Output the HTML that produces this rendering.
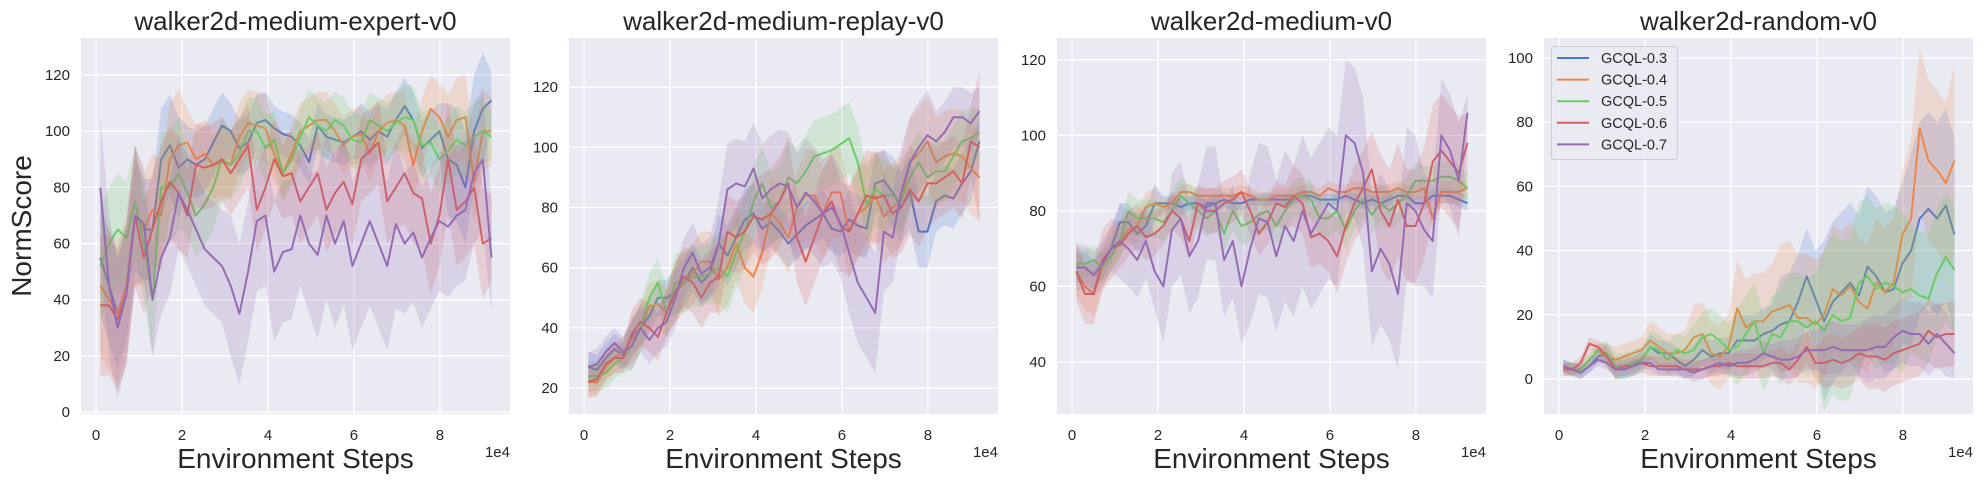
<!DOCTYPE html>
<html><head><meta charset="utf-8">
<style>
html,body{margin:0;padding:0;background:#fff;}
svg{display:block;font-family:"Liberation Sans",Arial,sans-serif;}
</style></head>
<body>
<svg id="fig" width="1984" height="484" viewBox="0 0 1984 484" xmlns="http://www.w3.org/2000/svg"></svg>
<script>
const seriesNames = ["GCQL-0.3","GCQL-0.4","GCQL-0.5","GCQL-0.6","GCQL-0.7"];
const xTicks = [0,2,4,6,8];
const titles = ["walker2d-medium-expert-v0","walker2d-medium-replay-v0","walker2d-medium-v0","walker2d-random-v0"];
const yTicks1 = [0,20,40,60,80,100,120];
const yTicks2 = [20,40,60,80,100,120];
const yTicks3 = [40,60,80,100,120];
const yTicks4 = [0,20,40,60,80,100];

// panel 1: medium-expert
const p1Blue=[55,45,35,45,70,65,65,90,95,87,90,88,90,96,102,100,94,96,103,104,101,99,98,95,89,102,98,97,96,98,100,97,100,98,104,109,104,94,97,100,90,88,80,100,108,111];
const p1Orange=[45,40,35,45,70,65,72,70,90,95,96,90,92,88,89,88,98,103,102,101,92,85,92,100,102,104,104,100,95,98,99,92,100,103,104,102,88,100,108,105,98,104,105,82,100,100];
const p1Green=[52,60,65,62,75,60,40,80,80,85,78,70,74,80,90,88,92,100,100,94,97,85,90,98,105,102,100,104,102,97,96,104,102,100,103,105,104,95,96,90,93,97,95,98,100,98];
const p1Red=[38,38,33,42,70,55,65,75,82,78,70,88,87,88,90,85,90,95,72,80,90,84,85,75,80,85,72,78,82,74,90,93,96,75,80,85,78,76,60,70,90,72,75,80,60,62];
const p1Purple=[80,45,30,42,70,67,40,55,62,78,72,65,58,55,52,45,35,50,68,70,50,57,58,70,60,56,70,60,68,52,60,68,60,52,67,60,64,55,62,68,66,70,72,85,90,55];
const p1Spread=[[20,18,12,10,8,8,10,10,20,10],[25,20,12,12,10,10,10,12,15,12],[20,20,15,12,10,10,10,12,12,8],[25,20,15,15,15,15,15,18,20,15],[25,20,20,25,25,30,30,25,25,20]];

// panel 2: medium-replay
const p2Blue=[27,26,30,33,31,37,40,44,50,50,52,55,60,55,58,68,64,70,76,78,73,75,72,68,71,74,76,78,73,72,76,74,73,88,89,85,80,85,72,72,82,84,83,88,92,102];
const p2Orange=[22,22,27,30,32,36,40,47,48,45,52,55,58,62,62,56,60,68,60,57,65,78,75,70,80,84,84,78,85,85,72,78,80,84,77,80,82,95,98,102,95,97,98,97,93,90];
const p2Green=[24,24,25,28,30,34,40,50,55,45,55,55,57,57,58,60,57,65,72,82,88,80,82,90,88,92,97,98,99,101,103,95,81,86,84,84,82,90,95,90,92,92,97,102,103,105];
const p2Red=[22,23,28,30,30,38,42,40,37,45,52,57,55,50,55,57,72,70,72,77,76,78,82,88,70,62,70,78,82,74,72,78,84,83,84,78,80,86,82,88,88,90,92,88,102,100];
const p2Purple=[27,28,32,35,32,34,40,36,40,42,50,60,65,58,60,68,86,88,87,93,83,86,88,87,80,85,82,78,80,75,65,55,50,45,72,70,85,95,100,104,102,105,110,110,108,112];
const p2Spread=[[5,6,8,10,8,8,10,12,10,8],[5,8,10,12,12,15,15,15,15,15],[5,8,10,12,12,12,12,10,10,8],[5,8,10,12,15,15,15,15,12,25],[5,8,10,15,18,18,20,15,10,8]];

// panel 3: medium
const p3Blue=[65,65,63,66,70,77,77,74,76,82,82,82,81,82,82,81,82,83,82,82,83,83,83,83,83,83,84,84,83,83,83,84,83,82,83,82,83,84,84,82,82,84,84,84,83,82];
const p3Orange=[64,60,58,65,70,72,75,76,81,82,81,82,85,85,84,84,84,84,84,85,84,83,83,84,84,84,85,85,84,86,85,85,86,86,85,85,85,86,85,85,86,78,85,85,85,86];
const p3Green=[66,66,67,65,68,72,80,78,78,78,77,80,84,82,80,78,80,74,80,76,77,79,80,76,80,83,84,83,78,78,80,75,80,83,79,82,80,82,84,88,88,88,89,89,88,86];
const p3Red=[64,58,58,67,70,71,74,76,73,74,76,80,78,72,82,80,80,82,83,85,80,74,77,82,81,84,82,73,74,72,68,76,82,86,91,80,76,83,76,76,82,93,96,93,90,98];
const p3Purple=[65,65,63,66,70,72,70,67,72,64,60,75,78,68,72,82,82,67,72,60,70,78,77,68,76,72,80,74,78,82,80,100,98,90,64,70,66,58,82,80,75,72,100,96,88,106];
const p3Spread=[[4,5,2,2,1.5,1.5,1.5,1.5,2,2],[6,4,2,2,2,2,2,2,3,2],[4,5,5,5,5,5,5,5,4,4],[8,6,5,6,6,8,10,15,15,8],[6,10,15,15,20,20,20,20,15,5]];

// panel 4: random
const p4Blue=[4,3,2,4,7,8,3,3,4,6,10,8,8,6,4,6,9,7,8,8,12,12,12,14,15,17,18,24,32,25,18,24,27,30,26,35,32,27,28,36,40,50,53,50,54,45];
const p4Orange=[3,3,3,6,9,7,6,7,8,9,12,10,8,8,9,13,14,8,7,10,22,16,18,18,21,22,23,19,19,17,20,28,26,29,24,22,30,27,30,45,50,78,68,65,61,68];
const p4Green=[4,3,3,6,9,8,4,4,5,6,10,9,6,9,8,9,13,14,12,9,10,14,18,8,14,13,18,18,16,18,15,20,18,19,30,32,28,30,29,27,28,26,25,33,38,34];
const p4Red=[3,3,5,11,10,7,3,4,4,5,4,4,4,4,3,3,3,4,4,5,4,4,4,4,5,5,3,6,10,5,5,6,5,6,8,7,7,6,8,9,10,11,15,13,14,14];
const p4Purple=[4,3,2,4,6,5,3,3,4,5,5,3,3,3,3,2,3,4,5,4,5,5,6,8,7,6,6,7,9,9,9,10,9,9,9,9,10,10,13,15,14,14,11,14,11,8];
const p4Spread=[[2,3,4,5,8,15,25,25,30,30],[2,4,6,10,15,20,20,20,25,30],[2,4,5,8,12,15,25,25,20,20],[2,3,3,3,4,5,8,10,10,10],[2,2,2,3,4,6,8,10,10,8]];

const colors=["#4878d0","#ee854a","#6acc64","#d65f5f","#956cb4"];
const NS="http://www.w3.org/2000/svg";
const svg=document.getElementById('fig');
function mk(tag,attrs,parent){const e=document.createElementNS(NS,tag);for(const k in attrs)e.setAttribute(k,attrs[k]);(parent||svg).appendChild(e);return e;}

const panels=[
 {left:81,yMin:-0.7,yMax:133.2,ticks:yTicks1,data:[p1Blue,p1Orange,p1Green,p1Red,p1Purple],spread:p1Spread,ylabel:true},
 {left:569,yMin:11.4,yMax:136.3,ticks:yTicks2,data:[p2Blue,p2Orange,p2Green,p2Red,p2Purple],spread:p2Spread},
 {left:1057,yMin:26.2,yMax:125.8,ticks:yTicks3,data:[p3Blue,p3Orange,p3Green,p3Red,p3Purple],spread:p3Spread},
 {left:1544,yMin:-10.9,yMax:106.2,ticks:yTicks4,data:[p4Blue,p4Orange,p4Green,p4Red,p4Purple],spread:p4Spread,legend:true}
];
const W=429,TOP=38,BOT=414,XMIN=-0.35,XMAX=9.63;

panels.forEach((p,pi)=>{
  const g=mk('g',{});
  
  
  const xs=v=>p.left+(v-XMIN)/(XMAX-XMIN)*W;
  const ys=v=>BOT-(v-p.yMin)/(p.yMax-p.yMin)*(BOT-TOP);
  const bg=mk('rect',{x:p.left,y:TOP,width:W,height:BOT-TOP,fill:"#eaeaf2"},g);
  
  
  xTicks.forEach(t=>{
    mk('line',{x1:xs(t),x2:xs(t),y1:TOP,y2:BOT,stroke:"#fff","stroke-width":1.3},g);
    const tl=mk('text',{x:xs(t),y:440,"font-size":15,"text-anchor":"middle",fill:"#262626"},g);
    tl.textContent=t;
    
    
  });
  p.ticks.forEach(t=>{
    mk('line',{x1:p.left,x2:p.left+W,y1:ys(t),y2:ys(t),stroke:"#fff","stroke-width":1.3},g);
    const tl=mk('text',{x:p.left-11,y:ys(t)+5,"font-size":15,"text-anchor":"end",fill:"#262626"},g);
    tl.textContent=t;
    
    
  });
  const clip=mk('clipPath',{id:'c'+pi},g);
  mk('rect',{x:p.left,y:TOP,width:W,height:BOT-TOP},clip);
  const plot=mk('g',{"clip-path":"url(#c"+pi+")"},g);
  p.data.forEach((arr,si)=>{
    const n=arr.length;
    const xv=i=>0.1+i*(9.1/(n-1));
    const sp=i=>p.spread[si][Math.min(9,Math.floor(xv(i)))];
    let up="",lo="";
    for(let i=0;i<n;i++){up+=(i?"L":"M")+xs(xv(i)).toFixed(1)+","+ys(arr[i]+sp(i)).toFixed(1);}
    for(let i=n-1;i>=0;i--){lo+="L"+xs(xv(i)).toFixed(1)+","+ys(arr[i]-sp(i)).toFixed(1);}
    const band=mk('path',{d:up+lo+"Z",fill:colors[si],"fill-opacity":0.2,stroke:"none"},plot);
    
    
    let d="";
    for(let i=0;i<n;i++){d+=(i?"L":"M")+xs(xv(i)).toFixed(1)+","+ys(arr[i]).toFixed(1);}
    const line=mk('path',{d:d,fill:"none",stroke:colors[si],"stroke-width":2,"stroke-linejoin":"round"},plot);
    
    
  });
  const tt=mk('text',{x:p.left+W/2,y:30,"font-size":26,"text-anchor":"middle",fill:"#262626"},g);
  tt.textContent=titles[pi];
  
  
  const xl=mk('text',{x:p.left+W/2,y:468,"font-size":28,"text-anchor":"middle",fill:"#262626"},g);
  xl.textContent="Environment Steps";
  
  
  const ex=mk('text',{x:p.left+W,y:457,"font-size":15,"text-anchor":"end",fill:"#262626"},g);
  ex.textContent="1e4";
  
  
  if(p.ylabel){
    const yl=mk('text',{x:0,y:0,"font-size":28,"text-anchor":"middle",fill:"#262626",transform:"translate(31,226) rotate(-90)"},g);
    yl.textContent="NormScore";
    
    
  }
  if(p.legend){
    const lg=mk('g',{},g);
    
    
    mk('rect',{x:1551.5,y:46.5,width:126,height:113,rx:3,fill:"#eaeaf2","fill-opacity":0.85,stroke:"#cccccc","stroke-width":1},lg);
    seriesNames.forEach((nm,si)=>{
      const yy=58+si*21.6;
      const e=mk('g',{},lg);
      
      
      mk('line',{x1:1557,x2:1589,y1:yy,y2:yy,stroke:colors[si],"stroke-width":2},e);
      const t=mk('text',{x:1601,y:yy+5,"font-size":14.5,fill:"#262626"},e);
      t.textContent=nm;
    });
  }
});
</script>
</body></html>
